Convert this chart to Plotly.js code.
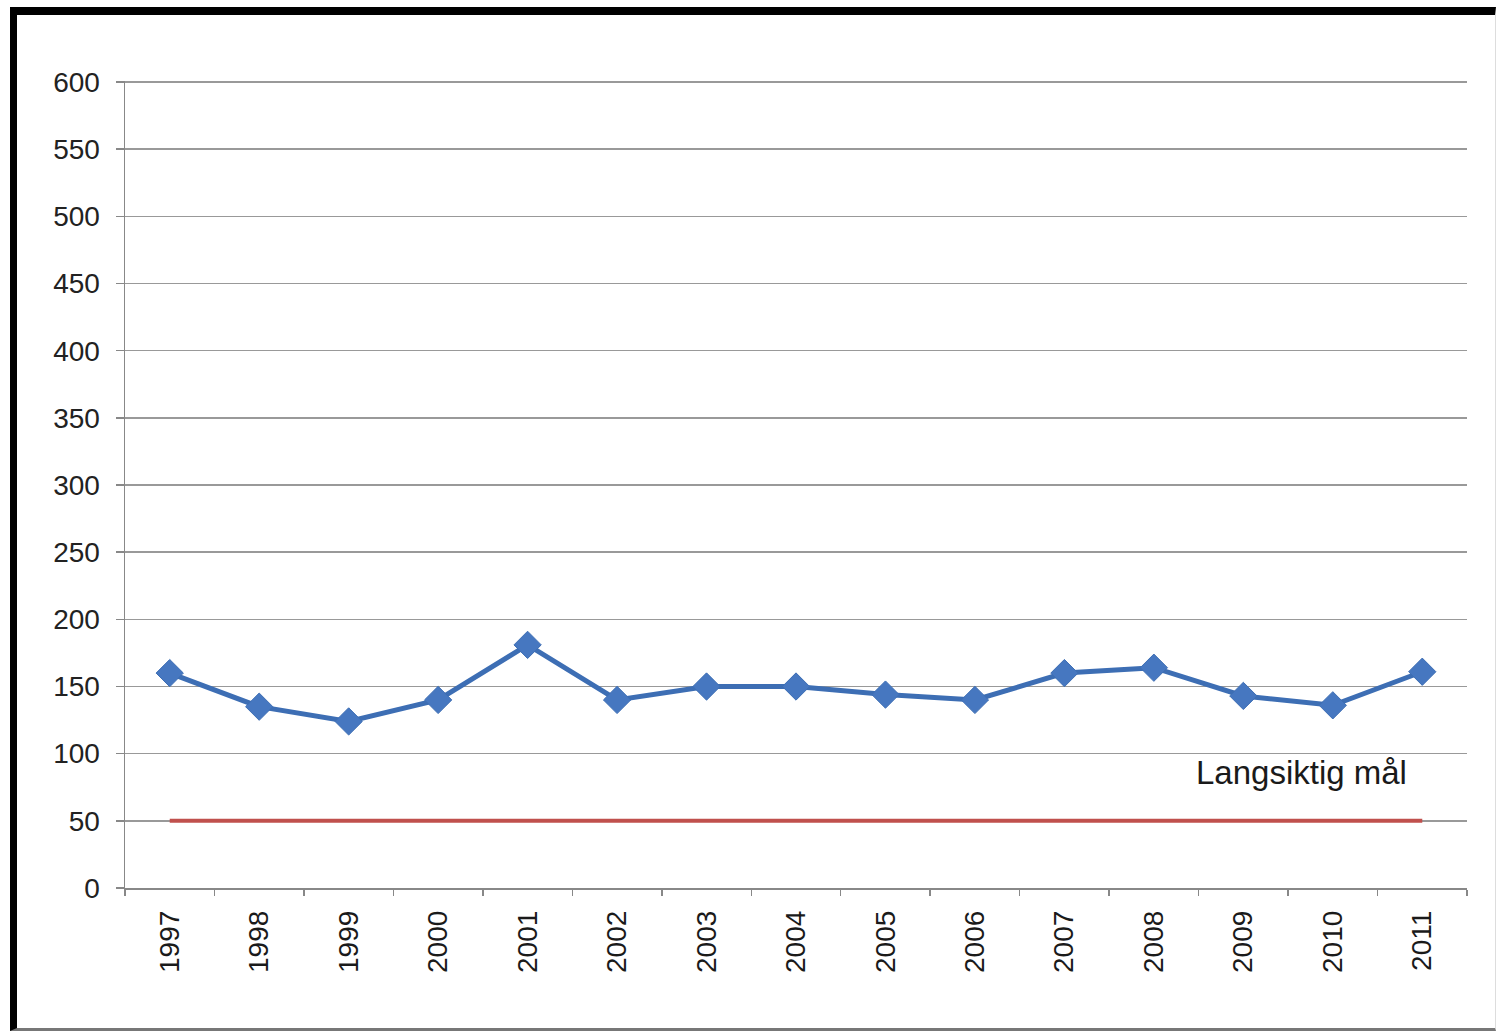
<!DOCTYPE html>
<html>
<head>
<meta charset="utf-8">
<script src="https://cdn.plot.ly/plotly-3.0.1.min.js"></script>
<style>
  html, body { margin: 0; padding: 0; background: #fff; }
  #chart { position: absolute; left: 0; top: 0; width: 1497px; height: 1033px; }
  #frame { position: absolute; left: 10px; top: 7px; width: 1478px; height: 1013px;
           border-top: 8px solid #000; border-left: 7px solid #000;
           border-bottom: 3px solid #777; border-right: 1px solid #ddd;
           pointer-events: none; }
</style>
</head>
<body>
<div id="chart"></div>
<div id="frame"></div>
<script>
const years = ["1997","1998","1999","2000","2001","2002","2003","2004","2005","2006","2007","2008","2009","2010","2011"];
const values = [160, 135, 124, 140, 181, 140, 150, 150, 144, 140, 160, 164, 143, 136, 161];
const target = [50, 50, 50, 50, 50, 50, 50, 50, 50, 50, 50, 50, 50, 50, 50];
const yTicks = [0, 50, 100, 150, 200, 250, 300, 350, 400, 450, 500, 550, 600];
const targetLabel = "Langsiktig mål";

const font = "Liberation Sans, Arial, sans-serif";

const traces = [
  {
    x: years, y: target, type: "scatter", mode: "lines",
    line: { color: "#C0504D", width: 4 }, hoverinfo: "skip"
  },
  {
    x: years, y: values, type: "scatter", mode: "lines+markers",
    line: { color: "#3D6EB4", width: 5 },
    marker: { symbol: "diamond", size: 21, color: "#4677C0", line: { color: "#3D6EB4", width: 1 } }
  }
];

const layout = {
  width: 1497, height: 1033,
  margin: { l: 125, r: 30, t: 81, b: 145 },
  paper_bgcolor: "#fff", plot_bgcolor: "#fff",
  showlegend: false,
  font: { family: font, size: 28, color: "#222" },
  xaxis: {
    type: "category", range: [-0.5, 14.5],
    tickson: "boundaries", ticks: "outside", ticklen: 6, tickcolor: "#888", tickwidth: 1.5,
    showgrid: false, showline: true, linecolor: "#888", linewidth: 1.5,
    tickangle: -90, ticklabelstandoff: 10,
    tickfont: { family: font, size: 28, color: "#1a1a1a" }
  },
  yaxis: {
    range: [0, 600.8], tickvals: yTicks, ticktext: yTicks.map(String),
    ticks: "outside", ticklen: 8, tickcolor: "#888", tickwidth: 1.5,
    showgrid: true, gridcolor: "#999", gridwidth: 1.5,
    showline: true, linecolor: "#888", linewidth: 1.5, zeroline: false,
    ticklabelstandoff: 10,
    tickfont: { family: font, size: 28, color: "#222" }
  },
  annotations: [
    { x: 12.65, y: 86, xref: "x", yref: "y", text: targetLabel, showarrow: false,
      font: { family: font, size: 33, color: "#1a1a1a" } }
  ]
};

Plotly.newPlot("chart", traces, layout, { displayModeBar: false, staticPlot: true });
</script>
</body>
</html>
